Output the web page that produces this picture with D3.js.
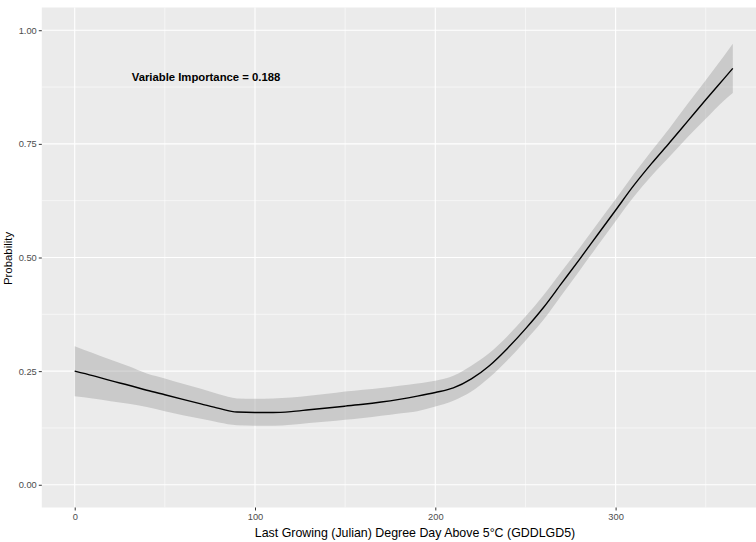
<!DOCTYPE html>
<html>
<head>
<meta charset="utf-8">
<script src="https://cdn.jsdelivr.net/npm/d3@7"></script>
<style>
  html, body { margin: 0; padding: 0; background: #fff; }
  svg { display: block; font-family: "Liberation Sans", Arial, sans-serif; }
</style>
</head>
<body>
<svg id="chart" width="756" height="542"></svg>
<script>
// Partial dependence of probability on GDDLGD5, with confidence band
const gdd   = [0, 10, 20, 30, 40, 50, 60, 70, 80, 90, 100, 110, 120, 130, 140, 150, 160, 170, 180, 190,
               200, 210, 220, 230, 240, 250, 260, 270, 280, 290, 300, 310, 320, 330, 340, 350, 360, 365];
const fit   = [0.250, 0.240, 0.229, 0.219, 0.208, 0.198, 0.188, 0.178, 0.168, 0.160, 0.159, 0.159, 0.161, 0.165,
               0.169, 0.173, 0.177, 0.182, 0.188, 0.195, 0.203, 0.213, 0.233, 0.262, 0.300, 0.343, 0.390, 0.443,
               0.496, 0.550, 0.604, 0.658, 0.707, 0.753, 0.800, 0.847, 0.893, 0.916];
const lower = [0.195, 0.190, 0.184, 0.178, 0.171, 0.162, 0.153, 0.145, 0.137, 0.131, 0.130, 0.130, 0.132, 0.136,
               0.139, 0.143, 0.147, 0.152, 0.157, 0.162, 0.172, 0.185, 0.205, 0.236, 0.274, 0.317, 0.363, 0.417,
               0.471, 0.526, 0.580, 0.633, 0.680, 0.722, 0.765, 0.805, 0.845, 0.862];
const upper = [0.305, 0.290, 0.275, 0.261, 0.245, 0.234, 0.222, 0.211, 0.199, 0.190, 0.189, 0.190, 0.192, 0.196,
               0.200, 0.205, 0.209, 0.213, 0.218, 0.223, 0.229, 0.240, 0.262, 0.290, 0.327, 0.370, 0.417, 0.469,
               0.521, 0.575, 0.628, 0.683, 0.735, 0.785, 0.838, 0.890, 0.943, 0.970];

const xMajor = [0, 100, 200, 300];
const xMinor = [50, 150, 250, 350];
const yMajor = [0, 0.25, 0.5, 0.75, 1];
const yMinor = [0.125, 0.375, 0.625, 0.875];

const annotation = "Variable Importance = 0.188";
const xTitle = "Last Growing (Julian) Degree Day Above 5°C (GDDLGD5)";
const yTitle = "Probability";

const rows = gdd.map((g, i) => ({ g, fit: fit[i], lo: lower[i], hi: upper[i] }));

const svg = d3.select("#chart");

const x = d3.scaleLinear().domain([-18.25, 383.25]).range([41.8, 765.7]);
const y = d3.scaleLinear().domain([-0.05, 1.05]).range([507.5, 7.5]);

// panel background
svg.append("rect")
  .attr("x", x.range()[0]).attr("y", y.range()[1])
  .attr("width", x.range()[1] - x.range()[0])
  .attr("height", y.range()[0] - y.range()[1])
  .attr("fill", "#EBEBEB");

const grid = svg.append("g").attr("stroke", "#fff").attr("fill", "none");
grid.selectAll(".xmin").data(xMinor).join("line")
  .attr("x1", d => x(d)).attr("x2", d => x(d))
  .attr("y1", y.range()[0]).attr("y2", y.range()[1])
  .attr("stroke-width", 0.55);
grid.selectAll(".ymin").data(yMinor).join("line")
  .attr("y1", d => y(d)).attr("y2", d => y(d))
  .attr("x1", x.range()[0]).attr("x2", x.range()[1])
  .attr("stroke-width", 0.55);
grid.selectAll(".xmaj").data(xMajor).join("line")
  .attr("x1", d => x(d)).attr("x2", d => x(d))
  .attr("y1", y.range()[0]).attr("y2", y.range()[1])
  .attr("stroke-width", 1.1);
grid.selectAll(".ymaj").data(yMajor).join("line")
  .attr("y1", d => y(d)).attr("y2", d => y(d))
  .attr("x1", x.range()[0]).attr("x2", x.range()[1])
  .attr("stroke-width", 1.1);

// confidence band
const band = d3.area()
  .x(d => x(d.g)).y0(d => y(d.lo)).y1(d => y(d.hi))
  .curve(d3.curveMonotoneX);
svg.append("path").datum(rows)
  .attr("d", band)
  .attr("fill", "#999999").attr("fill-opacity", 0.4);

// fitted line
const line = d3.line()
  .x(d => x(d.g)).y(d => y(d.fit))
  .curve(d3.curveMonotoneX);
svg.append("path").datum(rows)
  .attr("d", line)
  .attr("fill", "none").attr("stroke", "#000").attr("stroke-width", 1.4)
  .attr("stroke-linejoin", "round");

// axes
const xAxis = d3.axisBottom(x).tickValues(xMajor).tickSize(3).tickPadding(3).tickFormat(d3.format("d"));
const gx = svg.append("g").attr("transform", `translate(0,${y.range()[0]})`).call(xAxis);
const yAxis = d3.axisLeft(y).tickValues(yMajor).tickSize(3).tickPadding(2).tickFormat(d3.format(".2f"));
const gy = svg.append("g").attr("transform", `translate(${x.range()[0]},0)`).call(yAxis);
[gx, gy].forEach(g => {
  g.select(".domain").remove();
  g.selectAll(".tick line").attr("stroke", "#333333").attr("stroke-width", 1);
  g.selectAll(".tick text").attr("fill", "#4D4D4D")
    .style("font-family", "'Liberation Sans', Arial, sans-serif").style("font-size", "9.3px");
});

// titles
svg.append("text")
  .attr("x", 415).attr("y", 536.5)
  .attr("text-anchor", "middle").attr("fill", "#000")
  .style("font-size", "12.4px")
  .text(xTitle);
svg.append("text")
  .attr("transform", "translate(11.5,258.5) rotate(-90)")
  .attr("text-anchor", "middle").attr("fill", "#000")
  .style("font-size", "11.4px")
  .text(yTitle);

// annotation
svg.append("text")
  .attr("x", 206).attr("y", 81)
  .attr("text-anchor", "middle").attr("fill", "#000")
  .style("font-size", "11.3px").style("font-weight", "bold")
  .text(annotation);
</script>
</body>
</html>
